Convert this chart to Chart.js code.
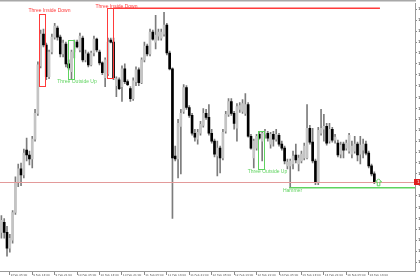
<!DOCTYPE html>
<html>
<head>
<meta charset="utf-8">
<script src="https://cdn.jsdelivr.net/npm/chart.js@4/dist/chart.umd.min.js"></script>
<style>
html, body { margin: 0; padding: 0; background: #fff; overflow: hidden; }
#wrap { width: 420px; height: 280px; overflow: hidden; }
</style>
</head>
<body>
<div id="wrap"><canvas id="myChart" width="460" height="280"></canvas></div>
<script>
// EURUSD H1 candles, 9 Feb 02:00 .. 16 Feb 14:00
var openP = [
1.1234,1.1244,1.1234,1.1218,1.1226,1.1254,1.1284,1.1298,1.1292,1.1317,
1.1312,1.1308,1.1328,1.1354,1.1402,1.1434,1.1423,1.1391,1.1416,1.1431,
1.1440,1.1431,1.1414,1.1424,1.1404,1.1396,1.1416,1.1426,1.1418,1.1430,
1.1408,1.1414,1.1403,1.1415,1.1429,1.1416,1.1405,1.1390,1.1394,1.1428,
1.1426,1.1382,1.1388,1.1381,1.1399,1.1386,1.1379,1.1369,1.1386,1.1398,
1.1385,1.1408,1.1422,1.1414,1.1436,1.1426,1.1432,1.1430,1.1434,1.1443,
1.1415,1.1399,1.1311,1.1308,1.1341,1.1356,1.1380,1.1360,1.1352,1.1334,
1.1328,1.1334,1.1342,1.1354,1.1350,1.1334,1.1326,1.1311,1.1319,1.1309,
1.1336,1.1353,1.1366,1.1354,1.1339,1.1358,1.1356,1.1354,1.1363,1.1331,
1.1309,1.1319,1.1333,1.1326,1.1333,1.1334,1.1323,1.1333,1.1328,1.1332,
1.1323,1.1319,1.1301,1.1301,1.1303,1.1312,1.1303,1.1306,1.1309,1.1309,
1.1339,1.1325,1.1306,1.1284,1.1334,1.1338,1.1341,1.1326,1.1338,1.1327,
1.1324,1.1313,1.1323,1.1319,1.1316,1.1313,1.1316,1.1323,1.1313,1.1317,
1.1323,1.1314,1.1301,1.1293];
var highP = [
1.1251,1.1248,1.1240,1.1232,1.1256,1.1290,1.1303,1.1304,1.1318,1.1329,
1.1316,1.1331,1.1358,1.1406,1.1438,1.1439,1.1425,1.1418,1.1434,1.1445,
1.1442,1.1433,1.1428,1.1426,1.1408,1.1418,1.1428,1.1428,1.1435,1.1432,
1.1418,1.1416,1.1417,1.1432,1.1430,1.1418,1.1406,1.1410,1.1430,1.1430,
1.1430,1.1391,1.1390,1.1402,1.1404,1.1388,1.1381,1.1390,1.1401,1.1400,
1.1410,1.1426,1.1424,1.1439,1.1438,1.1453,1.1439,1.1439,1.1456,1.1445,
1.1417,1.1400,1.1321,1.1348,1.1358,1.1383,1.1382,1.1362,1.1354,1.1338,
1.1338,1.1346,1.1359,1.1358,1.1363,1.1338,1.1328,1.1326,1.1321,1.1338,
1.1356,1.1369,1.1369,1.1356,1.1364,1.1365,1.1368,1.1374,1.1365,1.1333,
1.1328,1.1333,1.1335,1.1336,1.1338,1.1336,1.1335,1.1336,1.1338,1.1334,
1.1326,1.1321,1.1308,1.1308,1.1316,1.1323,1.1312,1.1316,1.1324,1.1363,
1.1342,1.1339,1.1308,1.1340,1.1358,1.1353,1.1344,1.1344,1.1340,1.1333,
1.1327,1.1325,1.1325,1.1327,1.1334,1.1326,1.1331,1.1325,1.1331,1.1328,
1.1326,1.1316,1.1303,1.1295];
var lowP = [
1.1228,1.1228,1.1210,1.1214,1.1223,1.1252,1.1280,1.1281,1.1289,1.1306,
1.1302,1.1299,1.1326,1.1352,1.1400,1.1421,1.1388,1.1389,1.1414,1.1429,
1.1428,1.1411,1.1411,1.1401,1.1398,1.1389,1.1410,1.1420,1.1416,1.1406,
1.1406,1.1401,1.1402,1.1412,1.1416,1.1403,1.1393,1.1381,1.1392,1.1425,
1.1388,1.1371,1.1378,1.1366,1.1384,1.1382,1.1366,1.1367,1.1382,1.1382,
1.1384,1.1406,1.1412,1.1412,1.1428,1.1419,1.1428,1.1428,1.1432,1.1413,
1.1398,1.1248,1.1306,1.1289,1.1293,1.1354,1.1358,1.1350,1.1332,1.1326,
1.1323,1.1332,1.1340,1.1348,1.1332,1.1324,1.1310,1.1291,1.1294,1.1307,
1.1334,1.1351,1.1352,1.1338,1.1326,1.1355,1.1354,1.1352,1.1330,1.1318,
1.1299,1.1317,1.1328,1.1306,1.1329,1.1326,1.1319,1.1321,1.1326,1.1321,
1.1317,1.1303,1.1298,1.1279,1.1298,1.1304,1.1296,1.1304,1.1307,1.1308,
1.1323,1.1304,1.1282,1.1282,1.1332,1.1326,1.1322,1.1324,1.1325,1.1324,
1.1310,1.1309,1.1309,1.1317,1.1314,1.1309,1.1314,1.1306,1.1303,1.1309,
1.1312,1.1299,1.1291,1.1283];
var closeP = [
1.1246,1.1234,1.1218,1.1228,1.1254,1.1284,1.1298,1.1292,1.1314,1.1312,
1.1308,1.1328,1.1354,1.1403,1.1434,1.1423,1.1391,1.1416,1.1431,1.1442,
1.1431,1.1414,1.1425,1.1404,1.1400,1.1416,1.1426,1.1421,1.1432,1.1408,
1.1414,1.1403,1.1415,1.1429,1.1418,1.1405,1.1395,1.1408,1.1426,1.1426,
1.1390,1.1389,1.1379,1.1399,1.1386,1.1383,1.1369,1.1387,1.1398,1.1385,
1.1408,1.1422,1.1414,1.1436,1.1429,1.1433,1.1436,1.1436,1.1443,1.1415,
1.1399,1.1309,1.1308,1.1344,1.1354,1.1380,1.1360,1.1352,1.1334,1.1330,
1.1335,1.1343,1.1354,1.1350,1.1334,1.1326,1.1313,1.1319,1.1309,1.1335,
1.1353,1.1366,1.1354,1.1344,1.1361,1.1362,1.1364,1.1363,1.1331,1.1319,
1.1326,1.1331,1.1329,1.1334,1.1336,1.1329,1.1333,1.1328,1.1333,1.1323,
1.1319,1.1306,1.1305,1.1306,1.1311,1.1307,1.1309,1.1313,1.1321,1.1339,
1.1325,1.1306,1.1284,1.1337,1.1339,1.1341,1.1324,1.1338,1.1327,1.1330,
1.1312,1.1322,1.1317,1.1324,1.1332,1.1321,1.1323,1.1312,1.1322,1.1323,
1.1314,1.1301,1.1293,1.1285];

// time scale (bar index of each label) and price scale
var timeTickIndex = [3, 11, 19, 27, 35, 43, 51, 59, 67, 75, 83, 91, 99, 107, 115, 123, 131];
var timeTickLabels = ["9 Feb 05:00", "9 Feb 13:00", "9 Feb 21:00", "10 Feb 05:00", "10 Feb 13:00",
  "10 Feb 21:00", "11 Feb 05:00", "11 Feb 13:00", "11 Feb 21:00", "12 Feb 05:00", "12 Feb 13:00",
  "12 Feb 21:00", "13 Feb 05:00", "13 Feb 13:00", "13 Feb 21:00", "16 Feb 05:00", "16 Feb 13:00"];
var priceTicks = [1.1459, 1.1448, 1.1437, 1.1426, 1.1415, 1.1404, 1.1393, 1.1382, 1.1370, 1.1359,
  1.1348, 1.1337, 1.1326, 1.1315, 1.1304, 1.1293, 1.1282, 1.1271, 1.1259, 1.1248, 1.1237, 1.1226,
  1.1215, 1.1204];
var bidPrice = 1.1285;

// pattern marks: [from bar, to bar, top price, bottom price]
var insideDownBoxes = [[13.5, 15.65, 1.1454, 1.1381], [37.66, 39.9, 1.1460, 1.1389]];
var outsideUpBoxes = [[23.64, 25.64, 1.1428, 1.1389], [91.4, 93.65, 1.1336, 1.1298]];
var patternNames = ["Three Inside Down", "Three Inside Down", "Three Outside Up", "Three Outside Up", "Hammer"];
var patternNameBar = [17.15, 41.05, 26.96, 94.9, 103.8];
var patternNamePrice = [1.1458, 1.1462, 1.1386, 1.12955, 1.1276];
var resistLevel = [39.9, 135.0, 1.1460];
var hammerLevel = [102.6, 147.5, 1.1279];
var arrowSignal = [134.5, 1.1288];

var RED = '#ff3b3b';
var GREEN = '#5fd35f';

var wickData = openP.map(function (o, i) { return { x: i, y: [lowP[i], highP[i]] }; });
var bodyData = openP.map(function (o, i) { return { x: i, y: [o, closeP[i]] }; });
var bodyColors = openP.map(function (o, i) { return closeP[i] >= o ? '#c4c4c4' : '#000000'; });

var marksPlugin = {
  id: 'marks',
  afterDatasetsDraw: function (chart) {
    var ctx = chart.ctx, xs = chart.scales.x, ys = chart.scales.y, a = chart.chartArea;
    ctx.save();
    // bid line
    ctx.strokeStyle = '#e39a9a';
    ctx.lineWidth = 1;
    var by = Math.round(ys.getPixelForValue(bidPrice)) + 0.5;
    ctx.beginPath(); ctx.moveTo(a.left, by); ctx.lineTo(a.right, by); ctx.stroke();

    function box(b, color) {
      var x1 = xs.getPixelForValue(b[0]), x2 = xs.getPixelForValue(b[1]);
      var y1 = ys.getPixelForValue(b[2]), y2 = ys.getPixelForValue(b[3]);
      ctx.strokeStyle = color;
      ctx.lineWidth = 1;
      ctx.strokeRect(Math.round(x1) + 0.5, Math.round(y1) + 0.5, Math.round(x2 - x1), Math.round(y2 - y1));
    }
    insideDownBoxes.forEach(function (b) { box(b, RED); });
    outsideUpBoxes.forEach(function (b) { box(b, GREEN); });

    function level(l, color) {
      var y = ys.getPixelForValue(l[2]);
      ctx.strokeStyle = color;
      ctx.lineWidth = 1.5;
      ctx.beginPath();
      ctx.moveTo(xs.getPixelForValue(l[0]), y);
      ctx.lineTo(Math.min(xs.getPixelForValue(l[1]), a.right), y);
      ctx.stroke();
    }
    level(resistLevel, RED);
    level(hammerLevel, GREEN);

    ctx.font = '5px "Liberation Sans", Arial, sans-serif';
    ctx.textAlign = 'center';
    ctx.textBaseline = 'middle';
    patternNames.forEach(function (t, i) {
      ctx.fillStyle = t.indexOf('Down') >= 0 ? RED : GREEN;
      ctx.fillText(t, xs.getPixelForValue(patternNameBar[i]), ys.getPixelForValue(patternNamePrice[i]));
    });

    // up arrow signal
    var cx = xs.getPixelForValue(arrowSignal[0]), ty = ys.getPixelForValue(arrowSignal[1]);
    ctx.strokeStyle = GREEN;
    ctx.lineWidth = 1;
    ctx.beginPath();
    ctx.moveTo(cx, ty);
    ctx.lineTo(cx + 3, ty + 3); ctx.lineTo(cx + 1.3, ty + 3); ctx.lineTo(cx + 1.3, ty + 7);
    ctx.lineTo(cx - 1.3, ty + 7); ctx.lineTo(cx - 1.3, ty + 3); ctx.lineTo(cx - 3, ty + 3);
    ctx.closePath();
    ctx.stroke();
    ctx.restore();
  },
  afterDraw: function (chart) {
    var ctx = chart.ctx, ys = chart.scales.y, a = chart.chartArea;
    ctx.save();
    // window frame top
    ctx.fillStyle = '#a8a8a8';
    ctx.fillRect(0, 0, a.right + 1, 1.5);
    // bid price tag on the axis
    var by = Math.round(ys.getPixelForValue(bidPrice));
    ctx.fillStyle = '#e01e1e';
    ctx.fillRect(a.right - 1, by - 3, 45, 6);
    ctx.fillStyle = '#fff';
    ctx.font = '4px "DejaVu Sans", sans-serif';
    ctx.textBaseline = 'middle';
    ctx.fillText(bidPrice.toFixed(4), a.right + 2, by);
    ctx.restore();
  }
};

var ctx = document.getElementById('myChart').getContext('2d');
new Chart(ctx, {
  type: 'bar',
  data: {
    datasets: [{
      data: wickData,
      backgroundColor: '#7c7c7c',
      barThickness: 1,
      grouped: false,
      order: 2
    }, {
      data: bodyData,
      backgroundColor: bodyColors,
      barThickness: 2,
      minBarLength: 1,
      grouped: false,
      order: 1
    }]
  },
  options: {
    responsive: false,
    animation: false,
    events: [],
    layout: { padding: { top: 1, left: 0, right: 0, bottom: 0 } },
    plugins: { legend: { display: false }, tooltip: { enabled: false } },
    scales: {
      x: {
        type: 'linear',
        min: -0.5,
        max: 147.5,
        offset: false,
        afterBuildTicks: function (s) { s.ticks = timeTickIndex.map(function (v) { return { value: v }; }); },
        afterFit: function (s) { s.height = 9; },
        ticks: {
          autoSkip: false,
          maxRotation: 0,
          align: 'start',
          padding: -1,
          color: '#555',
          font: { size: 2.8, family: '"DejaVu Sans", sans-serif' },
          callback: function (v, i) { return ' ' + timeTickLabels[i]; }
        },
        grid: { drawOnChartArea: false, offset: false, tickLength: 4, color: '#8a8a8a' },
        border: { display: true, color: '#9a9a9a' }
      },
      y: {
        position: 'right',
        min: 1.1195,
        max: 1.1465,
        afterBuildTicks: function (s) { s.ticks = priceTicks.map(function (v) { return { value: v }; }); },
        afterFit: function (s) { s.width = 45; },
        ticks: {
          padding: 1,
          color: '#222',
          font: { size: 4, family: '"DejaVu Sans", sans-serif' },
          callback: function (v) { return v.toFixed(4); }
        },
        grid: { drawOnChartArea: false, tickLength: 2, color: '#8a8a8a' },
        border: { display: true, color: '#9a9a9a' }
      }
    }
  },
  plugins: [marksPlugin]
});
</script>
</body>
</html>
